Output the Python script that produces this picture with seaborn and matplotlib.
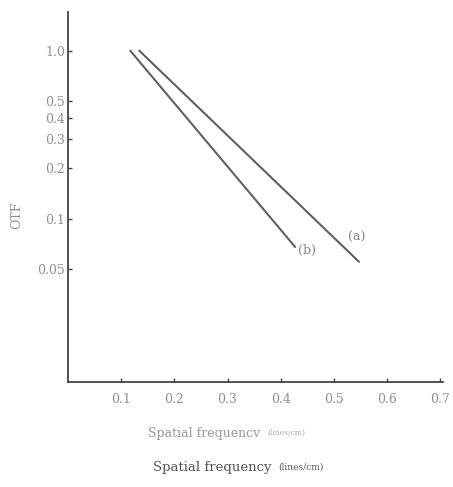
import matplotlib
matplotlib.use("Agg")
import matplotlib.pyplot as plt
import seaborn as sns
import pandas as pd
from matplotlib.ticker import FixedLocator, FixedFormatter, NullLocator

# data
freq_a = [0.134, 0.547]
otf_a = [1.0, 0.0555]
freq_b = [0.117, 0.427]
otf_b = [1.0, 0.068]
x_ticks = [0.1, 0.2, 0.3, 0.4, 0.5, 0.6, 0.7]
x_labels = ["0.1", "0.2", "0.3", "0.4", "0.5", "0.6", "0.7"]
y_ticks = [1.0, 0.5, 0.4, 0.3, 0.2, 0.1, 0.05]
y_labels = ["1.0", "0.5", "0.4", "0.3", "0.2", "0.1", "0.05"]

df = pd.DataFrame({
    "freq": freq_a + freq_b,
    "otf": otf_a + otf_b,
    "curve": ["(a)"] * len(freq_a) + ["(b)"] * len(freq_b),
})

sns.set_style("ticks")
plt.rcParams["font.family"] = ["DejaVu Serif"]

fig = plt.figure(figsize=(4.53, 4.87), dpi=100)
ax = fig.add_axes([0.150, 0.2156, 0.828, 0.76])

sns.lineplot(data=df, x="freq", y="otf", hue="curve",
             palette={"(a)": "#606060", "(b)": "#606060"},
             linewidth=1.5, legend=False, ax=ax)

ax.set_yscale("log")
ax.set_xlim(0, 0.705)
ax.set_ylim(0.0107, 1.7)
ax.xaxis.set_major_locator(FixedLocator(x_ticks))
ax.xaxis.set_major_formatter(FixedFormatter(x_labels))
ax.yaxis.set_major_locator(FixedLocator(y_ticks))
ax.yaxis.set_major_formatter(FixedFormatter(y_labels))
ax.yaxis.set_minor_locator(NullLocator())
ax.xaxis.set_minor_locator(NullLocator())

for s in ["top", "right"]:
    ax.spines[s].set_visible(False)
for s in ["left", "bottom"]:
    ax.spines[s].set_color("#444444")
    ax.spines[s].set_linewidth(1.3)

ax.tick_params(axis="both", direction="in", length=3, width=1, color="#444444",
               labelsize=9, labelcolor="#909090")
ax.tick_params(axis="x", pad=8)
ax.tick_params(axis="y", pad=2)

ax.set_xlabel("")
ax.set_ylabel("OTF", color="#909090", fontsize=9)
ax.yaxis.set_label_coords(-0.12, 0.45)

ax.text(0.543, 0.077, "(a)", color="#888888", fontsize=9, ha="center", va="center")
ax.text(0.45, 0.065, "(b)", color="#888888", fontsize=9, ha="center", va="center")

fig.text(0.575, 1 - 433 / 487, "Spatial frequencv", color="#999999", fontsize=9,
         ha="right", va="center")
fig.text(0.59, 1 - 433 / 487, "(lines/cm)", color="#aaaaaa", fontsize=5.5,
         ha="left", va="center")
fig.text(0.6, 1 - 467 / 487, "Spatial frequency", color="#555555", fontsize=9.5,
         ha="right", va="center")
fig.text(0.615, 1 - 467 / 487, "(lines/cm)", color="#555555", fontsize=6.5,
         ha="left", va="center")

fig.savefig("out.png", dpi=100)
